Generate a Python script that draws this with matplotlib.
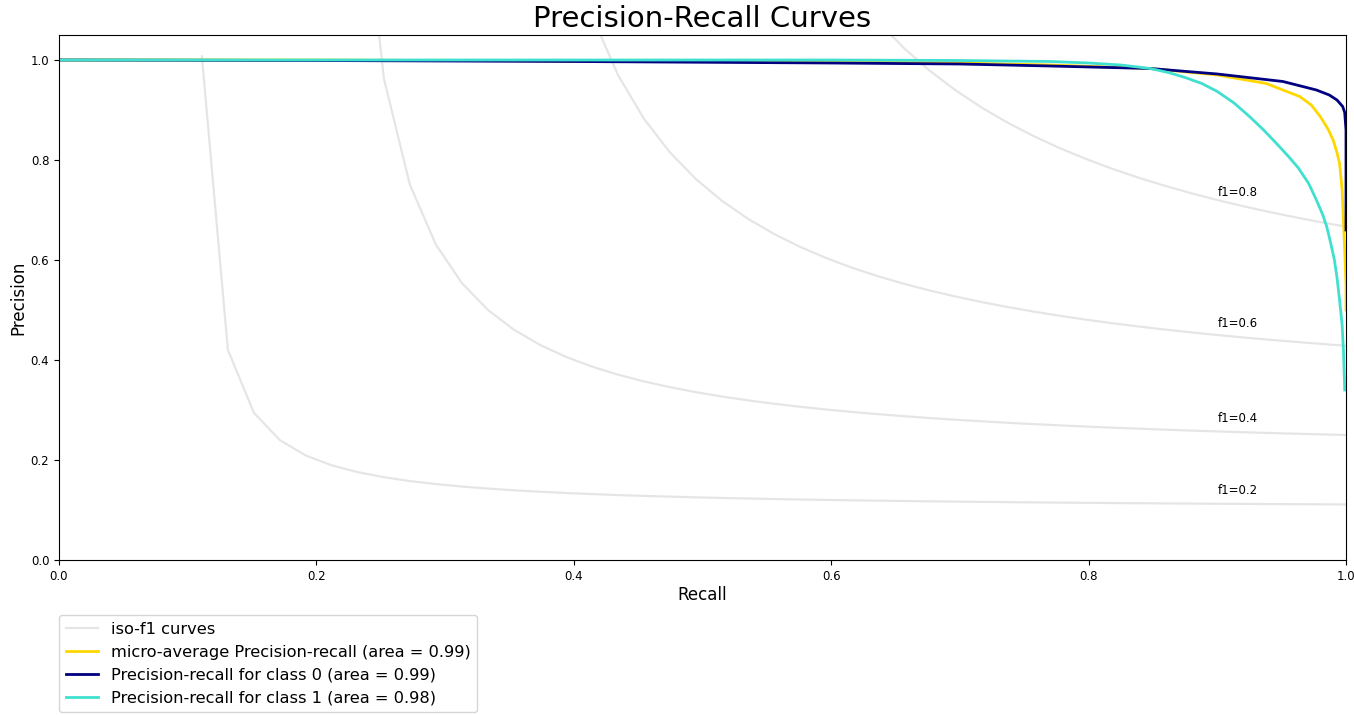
import numpy as np
import matplotlib
matplotlib.use("Agg")
import matplotlib.pyplot as plt

# iso-f1 levels
f_scores = [0.2, 0.4, 0.6, 0.8]

# micro-average curve
micro_recall = [0.0, 0.2, 0.4, 0.6, 0.7, 0.77, 0.848, 0.9, 0.938, 0.964, 0.973,
                0.98, 0.986, 0.99, 0.993, 0.995, 0.997, 0.998, 0.999, 1.0, 1.0]
micro_precision = [1.0, 1.0, 0.998, 0.996, 0.994, 0.99, 0.983, 0.97, 0.953, 0.927, 0.91,
                   0.887, 0.862, 0.84, 0.815, 0.793, 0.74, 0.68, 0.62, 0.55, 0.50]

# class 0
c0_recall = [0.0, 0.2, 0.4, 0.6, 0.7, 0.77, 0.848, 0.9, 0.951, 0.977, 0.987,
             0.993, 0.9974, 0.999, 1.0, 1.0]
c0_precision = [1.0, 0.999, 0.997, 0.994, 0.992, 0.988, 0.983, 0.972, 0.957, 0.94, 0.93,
                0.92, 0.907, 0.895, 0.86, 0.66]

# class 1
c1_recall = [0.0, 0.2, 0.4, 0.6, 0.7, 0.77, 0.8, 0.825, 0.848, 0.862, 0.875, 0.888,
             0.9, 0.913, 0.925, 0.936, 0.946, 0.955, 0.963, 0.971, 0.977, 0.982,
             0.985, 0.988, 0.991, 0.993, 0.995, 0.997, 0.998, 0.999]
c1_precision = [1.0, 1.0, 1.0, 1.0, 0.999, 0.997, 0.994, 0.99, 0.983, 0.975, 0.965, 0.953,
                0.937, 0.914, 0.887, 0.86, 0.833, 0.808, 0.784, 0.753, 0.72, 0.69,
                0.667, 0.635, 0.60, 0.565, 0.52, 0.47, 0.42, 0.34]

labels = ['iso-f1 curves',
          'micro-average Precision-recall (area = 0.99)',
          'Precision-recall for class 0 (area = 0.99)',
          'Precision-recall for class 1 (area = 0.98)']

W, H = 1354, 715
fig = plt.figure(figsize=(W / 100, H / 100), dpi=100)
ax = fig.add_axes([59 / W, (H - 560) / H, (1346 - 59) / W, (560 - 35) / H])

lines = []
for f_score in f_scores:
    x = np.linspace(0.01, 1)
    y = f_score * x / (2 * x - f_score)
    l, = ax.plot(x[y >= 0], y[y >= 0], color='gray', alpha=0.2, lw=1.6)
    ax.annotate('f1={0:0.1f}'.format(f_score), xy=(0.9, y[45] + 0.02), fontsize=8.5)
lines.append(l)

l, = ax.plot(micro_recall, micro_precision, color='gold', lw=2)
lines.append(l)
l, = ax.plot(c0_recall, c0_precision, color='navy', lw=2)
lines.append(l)
l, = ax.plot(c1_recall, c1_precision, color='turquoise', lw=2)
lines.append(l)

ax.set_xlim([0.0, 1.0])
ax.set_ylim([0.0, 1.05])
ax.tick_params(labelsize=8.5)
ax.set_xlabel('Recall', fontsize=12, labelpad=2)
ax.set_ylabel('Precision', fontsize=12, labelpad=2)
ax.set_title('Precision-Recall Curves', fontsize=21)

fig.legend(lines, labels, loc='upper left', fontsize=11.7, borderaxespad=0,
           bbox_to_anchor=(59 / W, 1 - 615 / H))

fig.savefig('out.png', dpi=100)
